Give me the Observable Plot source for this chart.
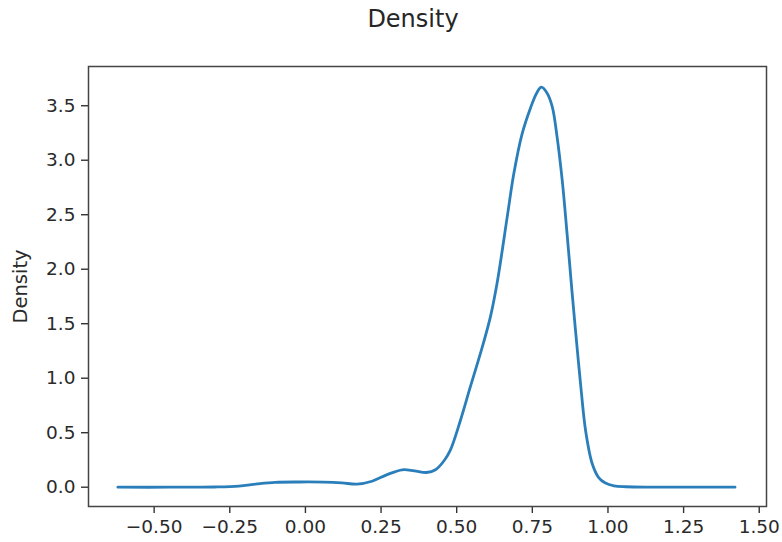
<!DOCTYPE html>
<html>
<head>
<meta charset="utf-8">
<script src="https://cdn.jsdelivr.net/npm/d3@7"></script>
<script src="https://cdn.jsdelivr.net/npm/@observablehq/plot@0.6"></script>
<style>
  html, body { margin: 0; padding: 0; background: #fff; }
  #wrap { position: relative; width: 782px; height: 542px; }
  #title {
    position: absolute; left: 44px; top: 4px; width: 738px;
    text-align: center; font-family: "DejaVu Sans", sans-serif;
    font-size: 24px; color: #262626; line-height: 30px;
  }
</style>
</head>
<body>
<div id="wrap">
  <div id="title">Density</div>
</div>
<script>
// Kernel density estimate sampled along the value axis
const xValues = [-0.62, -0.45, -0.30, -0.22, -0.16, -0.10, -0.02, 0.06, 0.12, 0.17,
  0.22, 0.27, 0.32, 0.36, 0.40, 0.43, 0.46, 0.479, 0.512, 0.545,
  0.584, 0.612, 0.634, 0.667, 0.689, 0.716, 0.744, 0.765, 0.780, 0.798,
  0.816, 0.832, 0.849, 0.865, 0.881, 0.893, 0.909, 0.926, 0.948, 0.970,
  0.990, 1.02, 1.06, 1.15, 1.30, 1.42];
const densityValues = [0.000, 0.000, 0.002, 0.010, 0.030, 0.045, 0.048, 0.047, 0.040, 0.028,
  0.055, 0.115, 0.160, 0.150, 0.135, 0.160, 0.25, 0.34, 0.61, 0.92,
  1.28, 1.57, 1.88, 2.48, 2.88, 3.24, 3.48, 3.62, 3.67, 3.62,
  3.49, 3.21, 2.81, 2.32, 1.80, 1.43, 0.96, 0.52, 0.215, 0.085,
  0.04, 0.012, 0.004, 0.001, 0.000, 0.000];

const xTicks = [-0.5, -0.25, 0, 0.25, 0.5, 0.75, 1.0, 1.25, 1.5];
const yTicks = [0, 0.5, 1.0, 1.5, 2.0, 2.5, 3.0, 3.5];
const yLabel = "Density";

const data = xValues.map((x, i) => ({x, y: densityValues[i]}));

const chart = Plot.plot({
  width: 782,
  height: 542,
  marginLeft: 88,
  marginRight: 16,
  marginTop: 66,
  marginBottom: 36,
  style: {fontFamily: "DejaVu Sans, sans-serif", fontSize: "18.5px", color: "#2a2a2a", background: "transparent"},
  x: {domain: [-0.717, 1.524]},
  y: {domain: [-0.177, 3.86]},
  marks: [
    Plot.axisX({ticks: xTicks, tickFormat: d3.format(".2f"), tickSize: 7, tickPadding: 6, label: null, stroke: "#333", strokeWidth: 1.4}),
    Plot.axisY({ticks: yTicks, tickFormat: d3.format(".1f"), tickSize: 7, tickPadding: 6, label: null, stroke: "#333", strokeWidth: 1.4}),
    Plot.line(data, {x: "x", y: "y", stroke: "#2a7fba", strokeWidth: 2.8, curve: "catmull-rom"}),
    Plot.frame({stroke: "#444", strokeWidth: 1.5}),
    Plot.text([yLabel], {frameAnchor: "left", dx: -68, rotate: -90, text: d => d, fontSize: 19.5, textAnchor: "middle", lineAnchor: "middle", fill: "#2a2a2a"})
  ]
});
document.getElementById("wrap").prepend(chart);
</script>
</body>
</html>
